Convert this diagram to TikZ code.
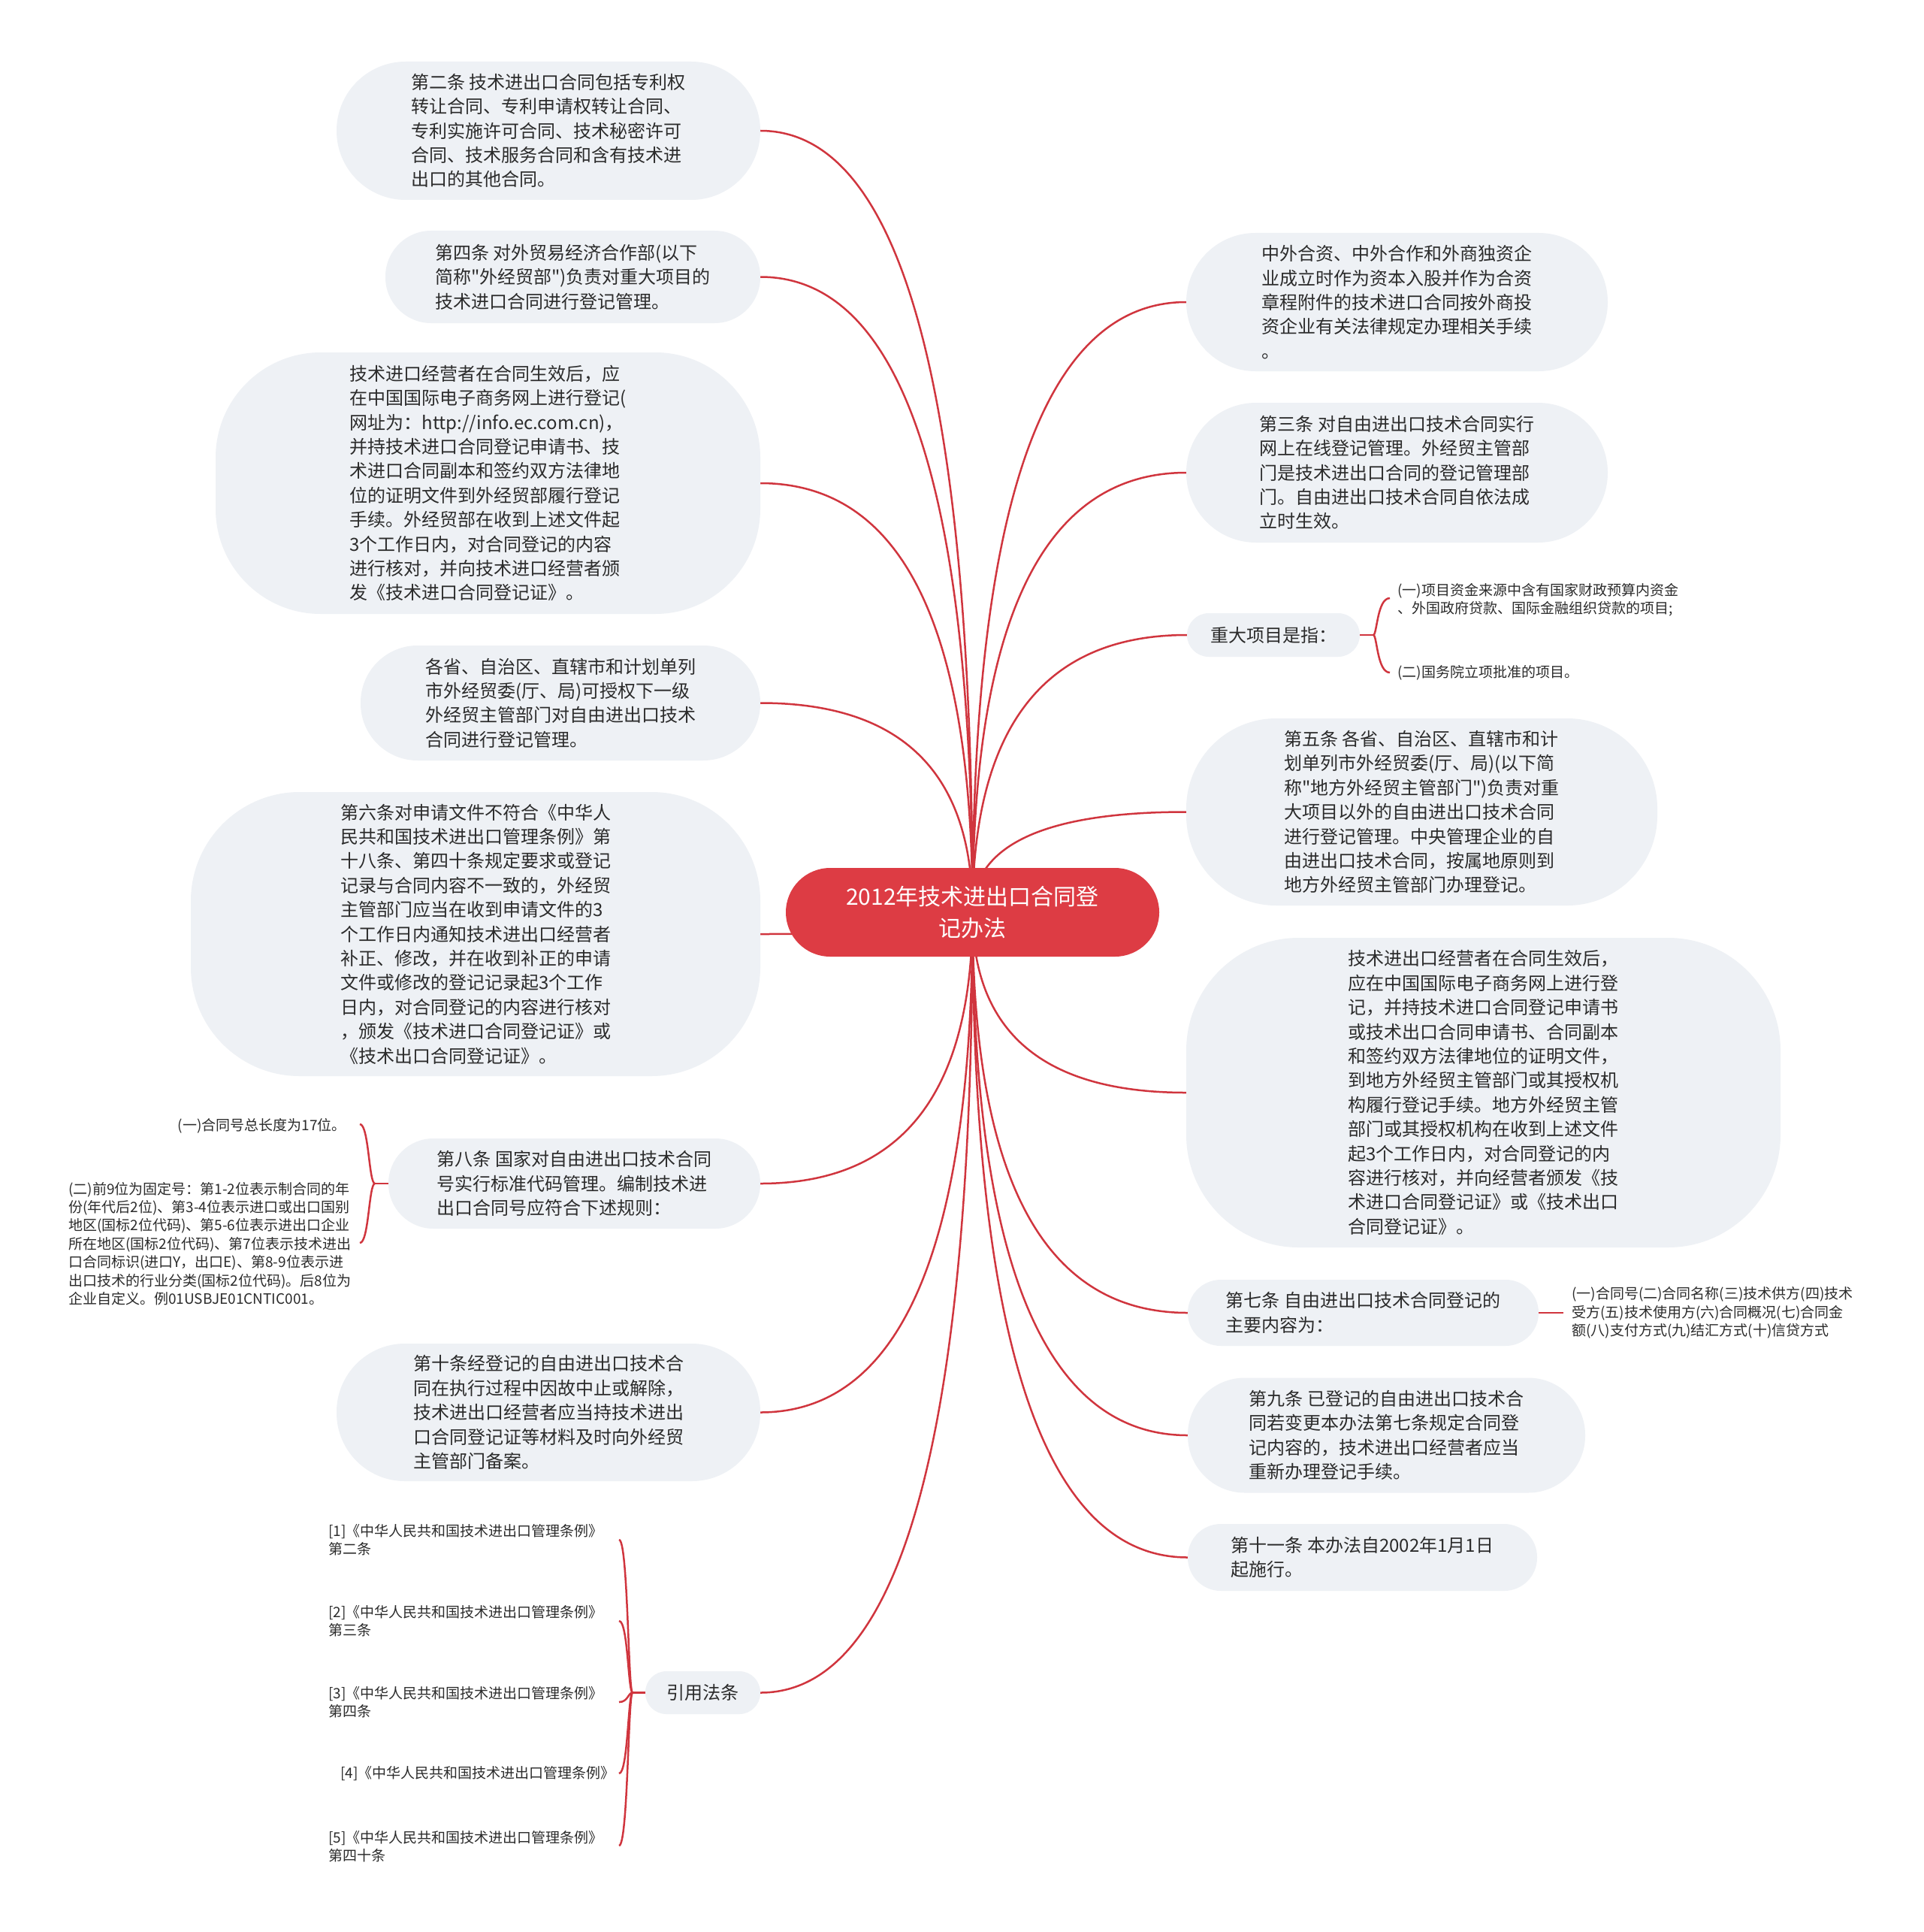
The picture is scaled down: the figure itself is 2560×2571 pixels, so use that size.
\documentclass[tikz,border=0pt]{standalone}
\usepackage{fontspec}
\newfontfamily\mmcjk{Noto Sans CJK SC}
\usetikzlibrary{calc}
\pgfdeclarelayer{paper}
\pgfdeclarelayer{links}
\pgfsetlayers{paper,links,main}
\definecolor{boxfill}{HTML}{EEF1F5}
\definecolor{linkred}{HTML}{D0353E}
\definecolor{rootred}{HTML}{DD3C44}
\definecolor{txt}{HTML}{2B2B2B}
\newcommand\mmbody{\mmcjk\fontsize{24}{32.4}\selectfont}
\newcommand\mmsmall{\mmcjk\fontsize{19}{24.4}\selectfont}
\newcommand\mmroot{\mmcjk\fontsize{30}{42.6}\selectfont}
\newcommand\mmlink[1]{\draw[link] (C.center) .. controls ($(C.center)!0.6667!(C.center|-#1)$) and ($(#1)!0.6667!(C.center|-#1)$) .. (#1);}
\newcommand\mmbrace[3]{\draw[brace] (#1) .. controls ($(#1)+(#3,0)$) and ($(#2 -| #1)+(#3,0)$) .. (#2);}
\tikzset{
  box/.style={fill=boxfill, text=txt, align=left, font=\mmbody, inner sep=0pt},
  sz/.style n args={3}{minimum width=#1pt, minimum height=#2pt, rounded corners=#3pt},
  leaf/.style={text=txt, align=left, font=\mmsmall, inner sep=0pt},
  root/.style={fill=rootred, text=white, align=center, font=\mmroot, inner sep=0pt},
  link/.style={draw=linkred, line width=2.5pt},
  brace/.style={draw=linkred, line width=2.5pt}
}
\begin{document}
\begin{tikzpicture}[x=1pt,y=-1pt]
\begin{pgfonlayer}{paper}
\fill[white] (0,0) rectangle (2560,2571);
\end{pgfonlayer}
\useasboundingbox (0,0) rectangle (2560,2571);

% root
\node[root, sz={497}{118}{59}] (C) at (1294.5,1214) {2012年技术进出口合同登\\记办法};

% left side
\node[box, sz={564}{184}{92}] (L1) at (730,174) {第二条 技术进出口合同包括专利权\\转让合同、专利申请权转让合同、\\专利实施许可合同、技术秘密许可\\合同、技术服务合同和含有技术进\\出口的其他合同。};
\node[box, sz={499}{123}{61}] (L2) at (762.5,368.5) {第四条 对外贸易经济合作部(以下\\简称"外经贸部")负责对重大项目的\\技术进口合同进行登记管理。};
\node[box, sz={725}{348}{140}] (L3) at (649.5,643) {技术进口经营者在合同生效后，应\\在中国国际电子商务网上进行登记(\\网址为：http://info.ec.com.cn)，\\并持技术进口合同登记申请书、技\\术进口合同副本和签约双方法律地\\位的证明文件到外经贸部履行登记\\手续。外经贸部在收到上述文件起\\3个工作日内，对合同登记的内容\\进行核对，并向技术进口经营者颁\\发《技术进口合同登记证》。};
\node[box, sz={532}{153}{76}] (L4) at (746,935.5) {各省、自治区、直辖市和计划单列\\市外经贸委(厅、局)可授权下一级\\外经贸主管部门对自由进出口技术\\合同进行登记管理。};
\node[box, sz={758}{378}{145}] (L5) at (633,1243) {第六条对申请文件不符合《中华人\\民共和国技术进出口管理条例》第\\十八条、第四十条规定要求或登记\\记录与合同内容不一致的，外经贸\\主管部门应当在收到申请文件的3\\个工作日内通知技术进出口经营者\\补正、修改，并在收到补正的申请\\文件或修改的登记记录起3个工作\\日内，对合同登记的内容进行核对\\，颁发《技术进口合同登记证》或\\《技术出口合同登记证》。};
\node[box, sz={495}{120}{60}] (L6) at (764.5,1575) {第八条 国家对自由进出口技术合同\\号实行标准代码管理。编制技术进\\出口合同号应符合下述规则：};
\node[box, sz={564}{183}{91}] (L7) at (730,1879.5) {第十条经登记的自由进出口技术合\\同在执行过程中因故中止或解除，\\技术进出口经营者应当持技术进出\\口合同登记证等材料及时向外经贸\\主管部门备案。};
\node[box, sz={153}{57}{28}, align=center] (L8) at (935.5,2252.5) {引用法条};

% right side
\node[box, sz={561}{184}{92}] (R1) at (1859.5,402) {中外合资、中外合作和外商独资企\\业成立时作为资本入股并作为合资\\章程附件的技术进口合同按外商投\\资企业有关法律规定办理相关手续\\。};
\node[box, sz={561}{186}{93}] (R2) at (1859.5,629) {第三条 对自由进出口技术合同实行\\网上在线登记管理。外经贸主管部\\门是技术进出口合同的登记管理部\\门。自由进出口技术合同自依法成\\立时生效。};
\node[box, sz={230}{58}{29}] (R3) at (1695,845) {重大项目是指：};
\node[box, sz={627}{249}{120}] (R4) at (1892.5,1080.5) {第五条 各省、自治区、直辖市和计\\划单列市外经贸委(厅、局)(以下简\\称"地方外经贸主管部门")负责对重\\大项目以外的自由进出口技术合同\\进行登记管理。中央管理企业的自\\由进出口技术合同，按属地原则到\\地方外经贸主管部门办理登记。};
\node[box, sz={791}{412}{150}] (R5) at (1974.5,1454) {技术进出口经营者在合同生效后，\\应在中国国际电子商务网上进行登\\记，并持技术进口合同登记申请书\\或技术出口合同申请书、合同副本\\和签约双方法律地位的证明文件，\\到地方外经贸主管部门或其授权机\\构履行登记手续。地方外经贸主管\\部门或其授权机构在收到上述文件\\起3个工作日内，对合同登记的内\\容进行核对，并向经营者颁发《技\\术进口合同登记证》或《技术出口\\合同登记证》。};
\node[box, sz={467}{88}{44}] (R6) at (1814.5,1747) {第七条 自由进出口技术合同登记的\\主要内容为：};
\node[box, sz={529}{153}{76}] (R7) at (1845.5,1910) {第九条 已登记的自由进出口技术合\\同若变更本办法第七条规定合同登\\记内容的，技术进出口经营者应当\\重新办理登记手续。};
\node[box, sz={465}{89}{44}] (R8) at (1813.5,2072.5) {第十一条 本办法自2002年1月1日\\起施行。};

% leaves
\node[leaf, anchor=west] (Z1) at (1860,798.5) {(一)项目资金来源中含有国家财政预算内资金\\、外国政府贷款、国际金融组织贷款的项目;};
\node[leaf, anchor=west] (Z2) at (1860,895) {(二)国务院立项批准的项目。};
\node[leaf, anchor=east] (B1) at (461,1498) {(一)合同号总长度为17位。};
\node[leaf, anchor=west] (B2) at (91,1655) {(二)前9位为固定号：第1-2位表示制合同的年\\份(年代后2位)、第3-4位表示进口或出口国别\\地区(国标2位代码)、第5-6位表示进出口企业\\所在地区(国标2位代码)、第7位表示技术进出\\口合同标识(进口Y，出口E)、第8-9位表示进\\出口技术的行业分类(国标2位代码)。后8位为\\企业自定义。例01USBJE01CNTIC001。};
\node[leaf, anchor=west] (Q7) at (2092,1747) {(一)合同号(二)合同名称(三)技术供方(四)技术\\受方(五)技术使用方(六)合同概况(七)合同金\\额(八)支付方式(九)结汇方式(十)信贷方式};
\node[leaf, anchor=west] (Y1) at (437,2049.5) {[1]《中华人民共和国技术进出口管理条例》\\第二条};
\node[leaf, anchor=west] (Y2) at (437,2157.5) {[2]《中华人民共和国技术进出口管理条例》\\第三条};
\node[leaf, anchor=west] (Y3) at (437,2265.5) {[3]《中华人民共和国技术进出口管理条例》\\第四条};
\node[leaf, anchor=west] (Y4) at (453,2360) {[4]《中华人民共和国技术进出口管理条例》};
\node[leaf, anchor=west] (Y5) at (437,2457.5) {[5]《中华人民共和国技术进出口管理条例》\\第四十条};

% brace junctions and tips
\coordinate (ZJ) at (1828,845);
\coordinate (Z1t) at (1850,796);
\coordinate (Z2t) at (1850,895);
\coordinate (BJ) at (499,1575);
\coordinate (B1t) at (479,1496);
\coordinate (B2t) at (479,1654);
\coordinate (Q7t) at (2081,1747);
\coordinate (YJ) at (842,2252.5);
\coordinate (Y1t) at (824,2049);
\coordinate (Y2t) at (824,2157);
\coordinate (Y3t) at (824,2265);
\coordinate (Y4t) at (824,2360);
\coordinate (Y5t) at (824,2456);

\begin{pgfonlayer}{links}
\mmlink{L1.east}
\mmlink{L2.east}
\mmlink{L3.east}
\mmlink{L4.east}
\mmlink{L5.east}
\mmlink{L6.east}
\mmlink{L7.east}
\mmlink{L8.east}
\mmlink{R1.west}
\mmlink{R2.west}
\mmlink{R3.west}
\mmlink{R4.west}
\mmlink{R5.west}
\mmlink{R6.west}
\mmlink{R7.west}
\mmlink{R8.west}
\end{pgfonlayer}

% braces
\draw[brace] (R3.east) -- (ZJ);
\mmbrace{ZJ}{Z1t}{5}
\mmbrace{ZJ}{Z2t}{5}
\draw[brace] (L6.west) -- (BJ);
\mmbrace{BJ}{B1t}{-8}
\mmbrace{BJ}{B2t}{-8}
\draw[brace] (R6.east) -- (Q7t);
\draw[brace] (L8.west) -- (YJ);
\mmbrace{YJ}{Y1t}{-6}
\mmbrace{YJ}{Y2t}{-6}
\mmbrace{YJ}{Y3t}{-6}
\mmbrace{YJ}{Y4t}{-6}
\mmbrace{YJ}{Y5t}{-6}
\end{tikzpicture}
\end{document}
